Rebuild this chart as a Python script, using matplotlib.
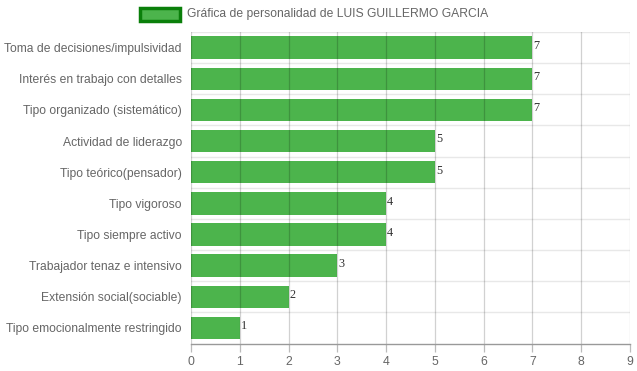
import matplotlib
matplotlib.use("Agg")
import matplotlib.pyplot as plt
from matplotlib.patches import Rectangle

categories = [
    "Toma de decisiones/impulsividad",
    "Interés en trabajo con detalles",
    "Tipo organizado (sistemático)",
    "Actividad de liderazgo",
    "Tipo teórico(pensador)",
    "Tipo vigoroso",
    "Tipo siempre activo",
    "Trabajador tenaz e intensivo",
    "Extensión social(sociable)",
    "Tipo emocionalmente restringido",
]
values = [7, 7, 7, 5, 5, 4, 4, 3, 2, 1]
x_ticks = list(range(0, 10))
legend_label = "Gráfica de personalidad de LUIS GUILLERMO GARCIA"

W, H = 637, 371
fig = plt.figure(figsize=(W / 100, H / 100), dpi=100)
ax = fig.add_axes([191 / W, 1 - 343.5 / H, (630 - 191) / W, (343.5 - 32) / H])

n = len(categories)
ypos = list(range(n))
ax.barh(ypos, values, height=0.72, color="#4cb44c", zorder=2, linewidth=0)
ax.set_ylim(n - 0.5, -0.5)
ax.set_xlim(0, 9)

# grid
for x in x_ticks:
    ax.axvline(x, color="#000000", alpha=0.18, lw=0.9, zorder=2.5)
for i in range(n):
    ax.axhline(i - 0.5, color="#e8e8e8", lw=1.0, zorder=0.5)

for s in ax.spines.values():
    s.set_visible(False)
ax.axhline(n - 0.5, color="#999999", lw=1.0, zorder=3, clip_on=False)

ax.set_xticks(x_ticks)
ax.set_xticklabels([str(v) for v in x_ticks])
ax.set_yticks(ypos)
ax.set_yticklabels(categories)
ax.tick_params(axis="x", length=6, width=0.9, color="#bbbbbb", labelcolor="#666666",
               labelsize=8.8, pad=3)
ax.tick_params(axis="y", length=0, labelcolor="#666666", labelsize=8.7, pad=6.5)
for lab in ax.get_xticklabels() + ax.get_yticklabels():
    lab.set_fontfamily("Liberation Sans")

for y, v in zip(ypos, values):
    ax.text(v + 0.02, y - 0.05, str(v), fontsize=8.8, family="Liberation Serif",
            color="#333333", va="center", ha="left", zorder=4)

# legend
fig.patches.append(Rectangle((140 / W, 1 - 20.5 / H), 40 / W, 12 / H,
                             transform=fig.transFigure, facecolor="#4cb44c",
                             edgecolor="#0a7f0a", linewidth=2.5))
fig.text(187 / W, 1 - 14.5 / H, legend_label, fontsize=8.7, family="Liberation Sans",
         color="#666666", va="center", ha="left")

fig.savefig("out.png", dpi=100)
